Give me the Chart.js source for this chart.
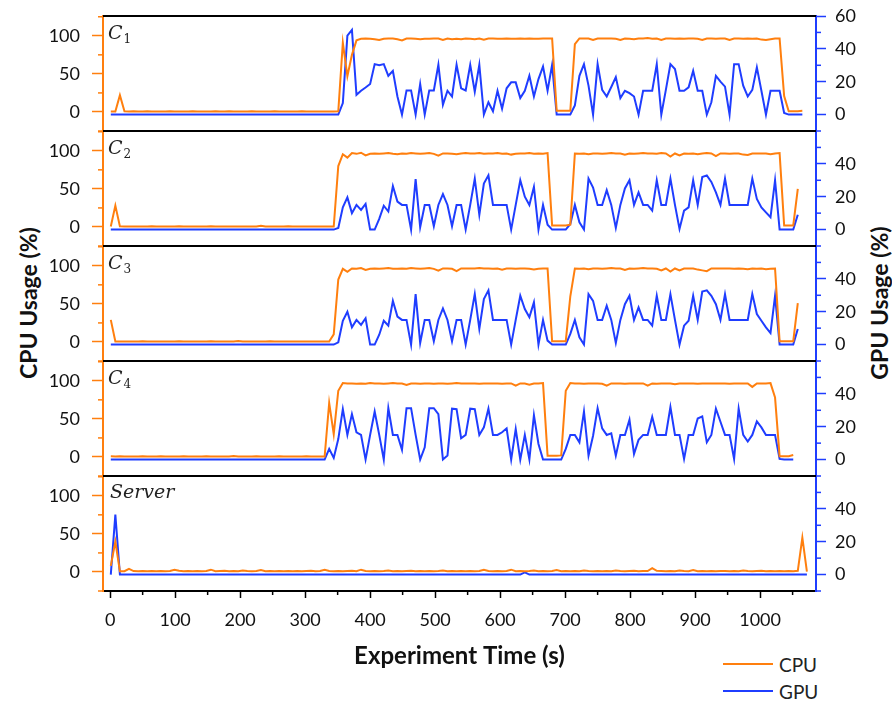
<!DOCTYPE html>
<html>
<head>
<meta charset="utf-8">
<script src="https://cdn.jsdelivr.net/npm/chart.js@4.4.1/dist/chart.umd.min.js"></script>
<style>
  body { margin: 0; background: #fff; }
  #wrap { position: relative; width: 892px; height: 704px; overflow: hidden; font-family: Lato, sans-serif; }
  #wrap canvas { position: absolute; left: 0; }
  .ytitle { position: absolute; top: 303px; font-weight: bold; font-size: 23px; color: #111; white-space: nowrap;
            transform: translate(-50%, -50%) rotate(-90deg); }
  #legend { position: absolute; left: 723px; top: 652px; }
  .item { display: flex; align-items: center; height: 24px; margin-bottom: 3px; font-size: 19px; color: #222; }
  .swatch { width: 50px; height: 2px; margin-right: 6px; }
</style>
</head>
<body>
<div id="wrap">
  <div class="ytitle" style="left:28px">CPU Usage (%)</div>
  <div class="ytitle" style="left:879px">GPU Usage (%)</div>
  <div id="legend"></div>
</div>
<script>
// sample times (s)
const time = [
  1, 8, 15, 22, 29, 36, 43, 50, 57, 64,
  71, 78, 85, 92, 99, 106, 113, 120, 127, 134,
  141, 148, 155, 162, 169, 176, 183, 190, 197, 204,
  211, 218, 225, 232, 239, 246, 253, 260, 267, 274,
  281, 288, 295, 302, 309, 316, 323, 330, 337, 344,
  351, 358, 365, 372, 379, 386, 393, 400, 407, 414,
  421, 428, 435, 442, 449, 456, 463, 470, 477, 484,
  491, 498, 505, 512, 519, 526, 533, 540, 547, 554,
  561, 568, 575, 582, 589, 596, 603, 610, 617, 624,
  631, 638, 645, 652, 659, 666, 673, 680, 687, 694,
  701, 708, 715, 722, 729, 736, 743, 750, 757, 764,
  771, 778, 785, 792, 799, 806, 813, 820, 827, 834,
  841, 848, 855, 862, 869, 876, 883, 890, 897, 904,
  911, 918, 925, 932, 939, 946, 953, 960, 967, 974,
  981, 988, 995, 1002, 1009, 1016, 1023, 1030, 1037, 1044,
  1051, 1058, 1065, 1072
];

const c1Cpu = [
  0.5, 0.5, 22, 0.8, 0.6, 0.8, 0.5, 0.6, 0.8, 0.6,
  0.7, 0.5, 0.6, 0.8, 0.5, 0.6, 0.7, 0.5, 0.8, 0.6,
  0.5, 0.7, 0.6, 0.8, 0.5, 0.6, 0.9, 0.6, 0.5, 0.7,
  0.6, 0.8, 0.5, 0.6, 0.7, 0.5, 0.8, 0.6, 0.5, 0.7,
  0.6, 0.5, 0.8, 0.6, 0.5, 0.7, 0.6, 0.5, 0.6, 0.5,
  0.8, 91, 47, 75, 94, 96, 96.5, 96, 95.5, 94.5,
  96, 96.5, 96.5, 95.5, 94, 96.5, 96.5, 96, 95.5, 96,
  96, 96.5, 96.5, 94.5, 96.5, 95.5, 96, 95.5, 96.5, 96,
  95.5, 96.5, 95, 96.5, 96.5, 96, 96, 96.5, 96, 96,
  96.5, 96, 96.5, 96, 96, 96.5, 96.5, 96.5, 1.5, 1.5,
  1.5, 1.5, 89, 96.5, 96.5, 96.5, 94.5, 96.5, 96.5, 96.5,
  96.5, 96, 94.5, 96.5, 96, 95.5, 96.5, 96.5, 97, 96,
  96.5, 94.5, 96.5, 96.5, 96, 96.5, 96, 96.5, 96.5, 96,
  94.5, 96.5, 96.5, 96, 96.5, 96.5, 94.5, 96.5, 96.5, 96,
  96.5, 96, 96.5, 95, 94.5, 95.5, 96.5, 96.5, 21, 1,
  1, 1, 1.5
];
const c1Gpu = [
  0, 0, 0, 0, 0, 0, 0, 0, 0, 0,
  0, 0, 0, 0, 0, 0, 0, 0, 0, 0,
  0, 0, 0, 0, 0, 0, 0, 0, 0, 0,
  0, 0, 0, 0, 0, 0, 0, 0, 0, 0,
  0, 0, 0, 0, 0, 0, 0, 0, 0, 0,
  0, 7, 48, 51.5, 12, 14.5, 16.5, 18.6, 30.7, 30,
  30.7, 23.6, 26.6, 11, 0, 14.7, 14.7, 0, 18.6, 0,
  14.7, 14.7, 30.3, 6, 14.5, 11, 30.3, 16, 14.7, 30.3,
  13.9, 30.3, 0, 7.5, 2, 14.5, 3.6, 16, 19.6, 19.6,
  10, 14.5, 23.6, 11, 21.6, 29.3, 14.5, 30.3, 0, 0,
  0, 0, 5.5, 23.6, 30.7, 17.6, 0, 30.7, 15, 11,
  16.8, 22.8, 10, 14.5, 13, 11, 0, 14.5, 14.5, 14.5,
  30.7, 0, 15, 30.7, 27.7, 14.5, 14.5, 16.6, 26.6, 14.5,
  14.5, 0, 7.5, 23.6, 20, 17, 0, 30.7, 30.7, 17.6,
  11, 15, 28.7, 14.5, 0, 14.5, 14.5, 14.5, 1, 0,
  0, 0, 0
];

const c2Cpu = [
  0.5, 28, 0.8, 0.6, 0.5, 0.7, 0.6, 0.5, 0.6, 0.8,
  0.5, 0.6, 0.7, 0.5, 0.6, 0.8, 0.5, 0.6, 0.5, 0.7,
  0.6, 0.5, 0.8, 0.6, 0.5, 0.6, 0.7, 0.5, 0.6, 0.5,
  0.7, 0.6, 0.5, 1.5, 0.6, 0.5, 0.7, 0.6, 0.5, 0.8,
  0.6, 0.5, 0.7, 0.6, 0.5, 0.6, 0.5, 0.7, 0.6, 0.5,
  80, 95.5, 91, 97, 96, 97.5, 94, 96, 96.5, 96,
  96.5, 97, 96, 95.5, 96.5, 96, 97, 96.5, 96, 96.5,
  97, 96, 93.5, 96.5, 96.5, 96, 95.5, 96.5, 97, 96.5,
  96.5, 97, 96, 96.5, 96.5, 97, 96, 96.5, 95, 96,
  96.5, 96.5, 97, 96, 96.5, 96, 97, 2, 2, 2,
  2, 3, 96.5, 96, 96.5, 95.5, 96.5, 96.5, 96, 96.5,
  97, 96.5, 96.5, 95, 96.5, 96, 96.5, 97, 96.5, 96.5,
  96, 97, 96.5, 92.5, 96.5, 94, 96.5, 96, 96.5, 95.5,
  96.5, 97, 96.5, 93, 96.5, 96.5, 96, 96.5, 96.5, 95,
  94.5, 96.5, 96.5, 96.5, 96.5, 95.5, 96.5, 97, 2, 2,
  2, 50
];
const c2Gpu = [
  0, 0, 0, 0, 0, 0, 0, 0, 0, 0,
  0, 0, 0, 0, 0, 0, 0, 0, 0, 0,
  0, 0, 0, 0, 0, 0, 0, 0, 0, 0,
  0, 0, 0, 0, 0, 0, 0, 0, 0, 0,
  0, 0, 0, 0, 0, 0, 0, 0, 0, 0,
  1, 13.5, 19.6, 10, 15, 12, 15.6, 0, 0, 6.5,
  14.5, 11, 26.5, 17, 15, 15, 0, 30.7, 1.4, 15,
  15, 2, 15, 21.6, 15, 2, 15, 15, 0, 15,
  31, 9, 28, 33, 15, 15, 15, 15, 0, 15,
  30, 20, 15, 26, 0, 15, 3, 0, 0, 0,
  0, 3.4, 15, 4.4, 0, 31, 25.6, 15, 15, 24,
  15, 1, 15, 25, 30, 15, 22.6, 15, 15, 11.5,
  30, 15, 15, 31, 15, 0.4, 11.5, 13.5, 30, 15,
  32, 33, 29, 22.6, 15, 31, 15, 15, 15, 15,
  15, 31, 18.6, 13.5, 10.5, 7.5, 30, 0, 0, 0,
  0, 9
];

const c3Cpu = [
  29, 0.5, 0.6, 0.5, 0.7, 0.6, 0.5, 0.8, 0.6, 0.5,
  0.6, 0.7, 0.5, 0.6, 0.5, 0.8, 0.6, 0.5, 0.7, 0.6,
  0.5, 0.6, 0.8, 0.5, 0.6, 0.7, 0.5, 0.6, 1.2, 0.5,
  0.6, 0.5, 0.7, 0.6, 0.5, 0.8, 0.6, 0.5, 0.6, 0.7,
  0.5, 0.6, 0.7, 0.5, 0.6, 0.5, 0.7, 0.6, 0.5, 10,
  82, 96, 92, 96.5, 96, 97, 94.5, 96, 96.5, 96,
  96.5, 97, 96, 96, 96.5, 96, 97, 96.5, 96, 96.5,
  97, 96, 93.5, 96.5, 96.5, 96, 93, 96.5, 96.5, 96.5,
  96.5, 97, 96.5, 96.5, 96, 96.5, 95, 96.5, 96.5, 96,
  96.5, 96.5, 96, 95, 96, 96.5, 96.5, 1, 1, 1,
  1, 60, 96.5, 96, 96.5, 95.5, 96.5, 96.5, 96, 96.5,
  97, 96.5, 96.5, 94.5, 96.5, 96, 96.5, 97, 96.5, 96.5,
  96, 94, 96.5, 92.5, 96.5, 94, 96.5, 96.5, 96.5, 95,
  94, 93, 96.5, 96.5, 96.5, 96.5, 96.5, 96, 96.5, 96,
  95.5, 96.5, 96, 96.5, 95.5, 96, 96.5, 1, 1, 1,
  1, 51
];
const c3Gpu = [
  0, 0, 0, 0, 0, 0, 0, 0, 0, 0,
  0, 0, 0, 0, 0, 0, 0, 0, 0, 0,
  0, 0, 0, 0, 0, 0, 0, 0, 0, 0,
  0, 0, 0, 0, 0, 0, 0, 0, 0, 0,
  0, 0, 0, 0, 0, 0, 0, 0, 0, 0,
  1.4, 14.5, 20, 10.5, 15, 12, 16, 0, 0, 6,
  14.5, 11.5, 26.6, 17, 15, 15, 0, 30.7, 1, 15,
  15, 2, 15, 22, 15, 2, 15, 15, 0, 15,
  30.7, 9.5, 27.7, 33, 15, 15, 15, 15, 0, 15,
  29.7, 21.6, 16.6, 25.7, 0, 15, 2.4, 0, 0, 0,
  0, 6.5, 15, 4.4, 0, 30.7, 26.6, 15, 15, 23.6,
  15, 1, 15, 24.6, 29.7, 15, 22.6, 15, 15, 11.5,
  29.7, 15, 15, 30.7, 15, 0, 11.5, 14.5, 29.7, 15,
  32.3, 33, 29.7, 24.6, 15, 30.7, 15, 15, 15, 15,
  15, 30.7, 18.6, 14.5, 10.5, 7, 29.7, 0, 0, 0,
  0, 9.5
];

const c4Cpu = [
  0.8, 0.6, 0.8, 0.5, 0.7, 0.6, 0.5, 0.8, 0.6, 0.7,
  0.5, 0.8, 0.6, 0.5, 0.7, 0.6, 0.8, 0.5, 0.6, 0.7,
  0.5, 0.8, 0.6, 0.5, 0.7, 0.6, 0.5, 1.2, 0.6, 0.5,
  0.7, 0.6, 0.8, 0.5, 0.6, 0.7, 0.5, 0.8, 0.6, 0.5,
  0.7, 0.6, 0.5, 0.8, 0.6, 0.5, 0.6, 0.5, 71, 30,
  87, 97, 96.5, 96.5, 96, 96.5, 96, 97, 96.5, 96.5,
  96, 96.5, 97, 96.5, 96.5, 94.5, 96.5, 96.5, 96, 96.5,
  96.5, 96, 96.5, 96.5, 96, 96.5, 97, 96.5, 96.5, 96.5,
  96.5, 96, 96.5, 96.5, 96.5, 96.5, 96, 96.5, 96.5, 93.5,
  96.5, 96.5, 95, 96.5, 96.5, 97, 1.5, 1.5, 1.5, 2,
  87, 97, 96.5, 96.5, 96, 96.5, 96.5, 96.5, 96, 93.5,
  96.5, 96.5, 96.5, 96, 96.5, 96.5, 96.5, 96.5, 93.5, 96.5,
  96, 96.5, 96.5, 96.5, 95.5, 96.5, 96.5, 96.5, 96.5, 96,
  96.5, 96.5, 96.5, 96.5, 96.5, 96.5, 96, 96.5, 96.5, 96.5,
  96.5, 92, 96.5, 96.5, 96.5, 97, 78, 1, 1, 1,
  2.5
];
const c4Gpu = [
  0, 0, 0, 0, 0, 0, 0, 0, 0, 0,
  0, 0, 0, 0, 0, 0, 0, 0, 0, 0,
  0, 0, 0, 0, 0, 0, 0, 0, 0, 0,
  0, 0, 0, 0, 0, 0, 0, 0, 0, 0,
  0, 0, 0, 0, 0, 0, 0, 0, 6.5, 1,
  12.5, 30.7, 15, 27.7, 16.6, 15, 0, 15, 29.3, 15,
  0, 31.3, 15, 15, 6, 31.3, 31.3, 15, 0, 7.5,
  31.3, 31.3, 27.7, 0, 2.4, 31, 30.7, 13, 15, 31,
  30.7, 15, 19.6, 31, 15, 15, 16.6, 19, 0, 18.6,
  0, 15, 0, 27, 9.5, 0, 0, 0, 0, 0,
  6.5, 15, 15, 10.5, 29.3, 2.4, 14.5, 31.3, 19, 15,
  16, 2.4, 15, 15, 24.2, 3.4, 12, 15, 15, 26,
  15, 15, 15, 32, 15, 15, 0.4, 15, 15, 25,
  26.3, 10.5, 15, 31, 23, 15, 15, 0.4, 31, 15,
  11, 15, 23.2, 19.6, 15, 15, 15, 0.4, 0, 0,
  0
];

const serverCpu = [
  8, 40, 1, 1, 4, 1.2, 1, 1.3, 1, 1.2,
  1, 1.2, 1, 1.3, 3, 1.5, 1, 1.2, 1, 1.3,
  1, 1.2, 3, 1, 1.2, 1.5, 1, 1.3, 1, 2,
  1.2, 1, 1.3, 2.5, 1, 1.2, 1, 1.3, 1, 1.2,
  1, 1.3, 1, 1.2, 1.5, 1, 1.3, 3, 1.2, 1,
  1.3, 1, 1.2, 1.5, 1, 3, 1.2, 1, 1.3, 1,
  1.2, 2, 1, 1.3, 1, 1.2, 1.5, 1, 1.3, 1,
  1.2, 1, 1.3, 2, 1, 1.2, 1, 1.3, 1, 1.2,
  1, 1.3, 3, 1.2, 1, 1.3, 1, 1.2, 3, 1,
  1.3, 1, 1.2, 2, 1, 1.3, 1, 1.2, 2.5, 1,
  1.2, 1, 1.3, 1, 2, 1.2, 1, 1.3, 1, 1.2,
  1, 2, 1.3, 1, 1.2, 1.5, 1, 1.3, 1.2, 5,
  1.5, 1.2, 1, 1.3, 1, 2, 1.2, 1, 2.5, 1,
  1.3, 1, 1.2, 1, 1.3, 1.2, 1, 1.3, 1, 2,
  1.2, 1, 1.3, 1.5, 1, 1.2, 1, 1.3, 1, 1.2,
  1, 1.5, 45, 0.5
];
const serverGpu = [
  0, 36.5, 0, 0, 0, 0, 0, 0, 0, 0,
  0, 0, 0, 0, 0, 0, 0, 0, 0, 0,
  0, 0, 0, 0, 0, 0, 0, 0, 0, 0,
  0, 0, 0, 0, 0, 0, 0, 0, 0, 0,
  0, 0, 0, 0, 0, 0, 0, 0, 0, 0,
  0, 0, 0, 0, 0, 0, 0, 0, 0, 0,
  0, 0, 0, 0, 0, 0, 0, 0, 0, 0,
  0, 0, 0, 0, 0, 0, 0, 0, 0, 0,
  0, 0, 0, 0, 0, 0, 0, 0, 0, 0,
  0, 1.4, 0, 0, 0, 0, 0, 0, 0, 0,
  0, 0, 0, 0, 0, 0, 0, 0, 0, 0,
  0, 0, 0, 0, 0, 0, 0, 0, 0, 0,
  0, 0, 0, 0, 0, 0, 0, 0, 0, 0,
  0, 0, 0, 0, 0, 0, 0, 0, 0, 0,
  0, 0, 0, 0, 0, 0, 0, 0, 0, 0,
  0, 0, 0, 0
];

const seriesNames = ["CPU", "GPU"];
const panelNames = ["C", "C", "C", "C", "Server"];
const panelSubs = ["1", "2", "3", "4", ""];
const cpuSeries = [c1Cpu, c2Cpu, c3Cpu, c4Cpu, serverCpu];
const gpuSeries = [c1Gpu, c2Gpu, c3Gpu, c4Gpu, serverGpu];

const cpuTicks = [0, 50, 100];
const cpuMinor = [-25, 25, 75, 125];
const gpuTicksTop = [0, 20, 40, 60];
const gpuTicks = [0, 20, 40];
const gpuMinor = [-10, 10, 30, 50];
const xTicks = [0, 100, 200, 300, 400, 500, 600, 700, 800, 900, 1000];
const xMinor = [50, 150, 250, 350, 450, 550, 650, 750, 850, 950, 1050];

const cpuColor = "#ff7f0e";
const gpuColor = "#1f3dff";
const panelTop = [16, 131, 246, 361, 476];
const panelH = 115;
const pad = 24;

Chart.defaults.font.family = "Lato, sans-serif";
Chart.defaults.color = "#111";

const toPoints = (vals) => vals.map((v, i) => ({ x: time[i], y: v }));
const noEdgePad = (s) => {
  s.paddingTop = 0;
  s.paddingBottom = 0;
  s.paddingLeft = 0;
  s.paddingRight = 0;
};

// minor ticks, panel top rule and panel name
const panelDeco = {
  id: "panelDeco",
  afterDraw(chart, args, opts) {
    const { ctx, chartArea: a, scales } = chart;
    const seg = (x1, y1, x2, y2, color) => {
      ctx.beginPath();
      ctx.moveTo(x1, y1);
      ctx.lineTo(x2, y2);
      ctx.strokeStyle = color;
      ctx.stroke();
    };
    ctx.save();
    ctx.lineWidth = 1.5;
    cpuMinor.forEach((v) => {
      const y = scales.cpu.getPixelForValue(v);
      seg(a.left - 5, y, a.left, y, cpuColor);
    });
    gpuMinor.forEach((v) => {
      const y = scales.gpu.getPixelForValue(v);
      seg(a.right, y, a.right + 5, y, gpuColor);
    });
    if (opts.last) {
      xMinor.forEach((v) => {
        const x = scales.x.getPixelForValue(v);
        seg(x, a.bottom, x, a.bottom + 4, "#000");
      });
    }
    ctx.lineWidth = 2;
    seg(a.left, a.top, a.right, a.top, "#000");

    ctx.fillStyle = "#222";
    ctx.textBaseline = "alphabetic";
    if (opts.sub) {
      ctx.font = 'italic 19px "DejaVu Serif"';
      ctx.fillText(opts.name, a.left + 5, a.top + 23);
      const w = ctx.measureText(opts.name).width;
      ctx.font = '12px "DejaVu Serif"';
      ctx.fillText(opts.sub, a.left + 5 + w + 1, a.top + 27);
    } else {
      ctx.font = 'italic 19px "DejaVu Serif"';
      ctx.fillText(opts.name, a.left + 7, a.top + 22);
    }
    ctx.restore();
  },
};

const wrap = document.getElementById("wrap");

panelNames.forEach((name, i) => {
  const last = i === panelNames.length - 1;
  const canvas = document.createElement("canvas");
  const top = panelTop[i] - pad;
  const h = last ? 704 - top : panelH + 2 * pad;
  canvas.width = 892;
  canvas.height = h;
  canvas.style.top = top + "px";
  wrap.appendChild(canvas);

  new Chart(canvas, {
    type: "line",
    data: {
      datasets: [
        {
          label: seriesNames[0],
          data: toPoints(cpuSeries[i]),
          yAxisID: "cpu",
          borderColor: cpuColor,
          borderWidth: 2,
          pointRadius: 0,
          tension: 0,
        },
        {
          label: seriesNames[1],
          data: toPoints(gpuSeries[i]),
          yAxisID: "gpu",
          borderColor: gpuColor,
          borderWidth: 2,
          pointRadius: 0,
          tension: 0,
        },
      ],
    },
    options: {
      responsive: false,
      animation: false,
      events: [],
      layout: { padding: { top: pad, bottom: last ? 0 : pad, left: 0, right: 0 } },
      plugins: {
        legend: { display: false },
        tooltip: { enabled: false },
        panelDeco: { name, sub: panelSubs[i], last },
      },
      scales: {
        x: {
          type: "linear",
          min: -11,
          max: 1086,
          display: last,
          afterBuildTicks: (s) => { s.ticks = xTicks.map((v) => ({ value: v })); },
          afterFit: (s) => {
            noEdgePad(s);
            s.height = last ? 704 - top - pad - panelH : 0;
          },
          grid: { drawOnChartArea: false, tickLength: 7, tickColor: "#000", tickWidth: 1.5 },
          border: { color: "#000", width: 2 },
          ticks: { font: { size: 18 }, padding: 11, maxRotation: 0, callback: (v) => String(v) },
          title: {
            display: true,
            text: "Experiment Time (s)",
            font: { size: 24, weight: "bold" },
            padding: { top: 0, bottom: 33 },
          },
        },
        cpu: {
          position: "left",
          min: -25,
          max: 126,
          afterBuildTicks: (s) => { s.ticks = cpuTicks.map((v) => ({ value: v })); },
          afterFit: (s) => { noEdgePad(s); s.width = 103; },
          grid: { drawOnChartArea: false, tickLength: 11, tickColor: cpuColor, tickWidth: 1.5 },
          border: { color: cpuColor, width: 2 },
          ticks: { font: { size: 18 }, padding: 12 },
        },
        gpu: {
          position: "right",
          min: -10,
          max: 60,
          afterBuildTicks: (s) => { s.ticks = (i === 0 ? gpuTicksTop : gpuTicks).map((v) => ({ value: v })); },
          afterFit: (s) => { noEdgePad(s); s.width = 76; },
          grid: { drawOnChartArea: false, tickLength: 10, tickColor: gpuColor, tickWidth: 1.5 },
          border: { color: gpuColor, width: 2 },
          ticks: { font: { size: 18 }, padding: 9 },
        },
      },
    },
    plugins: [panelDeco],
  });
});

// legend
const legend = document.getElementById("legend");
[cpuColor, gpuColor].forEach((color, k) => {
  const row = document.createElement("div");
  row.className = "item";
  const sw = document.createElement("span");
  sw.className = "swatch";
  sw.style.background = color;
  row.appendChild(sw);
  row.appendChild(document.createTextNode(seriesNames[k]));
  legend.appendChild(row);
});
</script>
</body>
</html>
